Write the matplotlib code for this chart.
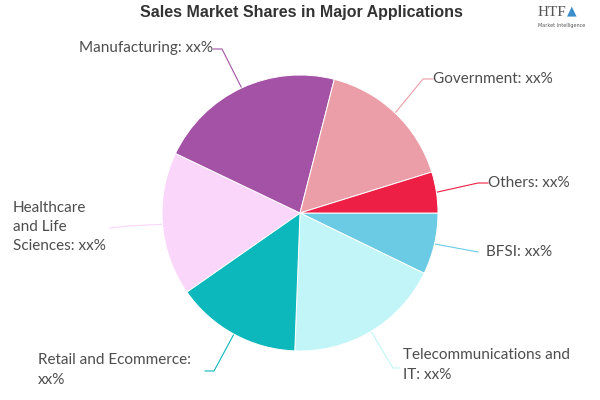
import numpy as np
import matplotlib
matplotlib.use("Agg")
import matplotlib.pyplot as plt

categories = ["BFSI", "Telecommunications and IT", "Retail and Ecommerce", "Healthcare and Life Sciences",
              "Manufacturing", "Government", "Others"]
label_texts = ["BFSI: xx%", "Telecommunications and\nIT: xx%", "Retail and Ecommerce:\nxx%",
               "Healthcare\nand Life\nSciences: xx%", "Manufacturing: xx%", "Government: xx%", "Others: xx%"]
shares = [7.2, 18.4, 14.7, 16.8, 21.9, 16.2, 4.8]
colors = ["#6ccbe4", "#c2f5f7", "#0cb8bc", "#fbd6fb", "#a352a6", "#eb9ea8", "#ee1f45"]

# label layout in pixels (x, y from top), elbow of leader line, alignment
label_pos = [(486, 252), (403, 365), (38, 370), (13, 227), (213, 48), (433, 79), (488, 183)]
elbows = [(478, 252), (393, 368), (214, 371), (128, 226), (222, 49), (423, 79), (478, 183)]
ends = [(478, 252), (400, 368), (205, 371), (110, 228), (213, 49), (433, 79), (488, 183)]
aligns = ["left", "left", "left", "left", "right", "left", "left"]

W, H = 600, 400
cx, cy, R = 300, H - 213, 138

fig = plt.figure(figsize=(6, 4), dpi=100)
ax = fig.add_axes([0, 0, 1, 1])
wedges, _ = ax.pie(shares, colors=colors, startangle=0, counterclock=False,
                   center=(cx, cy), radius=R,
                   wedgeprops=dict(edgecolor="white", linewidth=0.7))
ax.set_xlim(0, W)
ax.set_ylim(0, H)
ax.set_aspect("equal")
ax.axis("off")

for w, txt, (lx, ly), (ex, ey), (tx, ty), ha in zip(wedges, label_texts, label_pos, elbows, ends, aligns):
    mid = np.deg2rad((w.theta1 + w.theta2) / 2)
    px, py = cx + R * np.cos(mid), cy + R * np.sin(mid)
    ax.plot([px, ex, tx], [py, H - ey, H - ty], color=w.get_facecolor(), lw=0.8, zorder=0)
    ax.text(lx, H - ly, txt, ha=ha, va="center", fontsize=11, color="#4d4d4d",
            family="Lato", linespacing=1.5)

ax.text(301, H - 13, "Sales Market Shares in Major Applications", ha="center", va="center",
        fontsize=11.5, fontweight="bold", color="#333333",
        family=["Liberation Sans Narrow", "Liberation Sans"])

# logo
ax.text(552, H - 13, "HTF", ha="center", va="center", fontsize=11, color="#555555", family="Liberation Serif")
ax.text(572, H - 11, "\u25b2", ha="center", va="center", fontsize=9, color="#3d8ec9")
ax.text(562, H - 26, "Market Intelligence", ha="center", va="center", fontsize=3.5, color="#555555")

fig.savefig("out.png", dpi=100)
